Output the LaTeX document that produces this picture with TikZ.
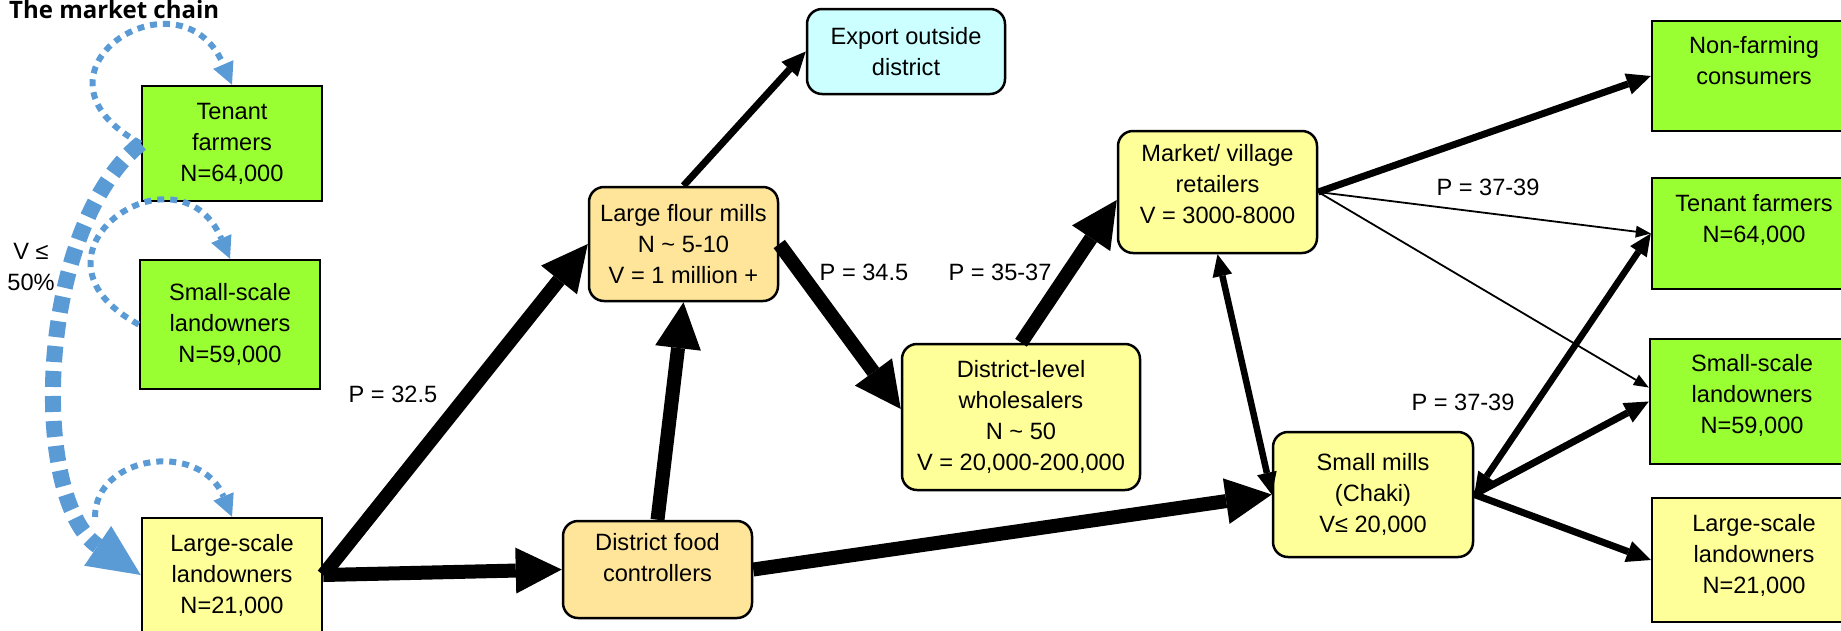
\documentclass[tikz,border=0pt]{standalone}
\usepackage{fontspec}
\setmainfont{Liberation Sans}
\newfontfamily\titlefont{Open Sans}
\usetikzlibrary{arrows.meta}

\definecolor{farmgreen}{HTML}{99FF33}
\definecolor{paleyellow}{HTML}{FFFF99}
\definecolor{paleorange}{HTML}{FFE599}
\definecolor{palecyan}{HTML}{CCFFFF}
\definecolor{shareblue}{HTML}{5B9BD5}

\tikzset{
  stage/.style={draw, line width=2.5pt, align=center, inner sep=2pt},
  farm/.style={stage, fill=farmgreen},
  landlord/.style={stage, fill=paleyellow},
  trader/.style={stage, rounded corners=15pt, fill=paleyellow},
  mill/.style={stage, rounded corners=15pt, fill=paleorange},
  outbox/.style={stage, rounded corners=15pt, fill=palecyan},
  bigflow/.style={line width=14pt, -{Triangle[length=46pt,width=46pt,line width=0pt]}},
  midflow/.style={line width=7pt, -{Triangle[length=24pt,width=22pt,line width=0pt]}},
  thinflow/.style={line width=1.8pt, -{Triangle[length=15pt,width=12pt,line width=0pt]}},
  twoway/.style={line width=6.5pt, {Triangle[length=22pt,width=20pt,line width=0pt]}-{Triangle[length=22pt,width=20pt,line width=0pt]}},
  share/.style={shareblue, line width=16pt, dash pattern=on 16pt off 9pt, -{Triangle[length=52pt,width=48pt,line width=0pt]}},
  selfloop/.style={shareblue, line width=6pt, dash pattern=on 7pt off 6pt, -{Triangle[length=22pt,width=22pt,line width=0pt]}}
}

\begin{document}
\begin{tikzpicture}[x=1pt, y=-1pt, font=\fontsize{23.6}{31}\selectfont]
  \useasboundingbox (0,0) rectangle (1841,630);

  \node[anchor=base west, inner sep=0pt, font={\titlefont\bfseries\fontsize{24}{28}\selectfont}] (title) at (9,18) {The market chain};

  % producers, left column
  \node[farm, minimum width=180pt, minimum height=115pt] (tfL) at (232,143.5) {Tenant\\farmers\\N=64,000};
  \node[farm, minimum width=180pt, minimum height=129pt] (ssL) at (230,324.5) {Small-scale\\landowners\\N=59,000};
  \node[landlord, minimum width=180pt, minimum height=114pt] (lslL) at (232,575) {Large-scale\\landowners\\N=21,000};
  \node[align=center] (vshare) at (31,267) {V ≤\\50\%};

  % middle of the chain
  \node[mill, minimum width=189pt, minimum height=114pt] (lfm) at (683.5,244) {Large flour mills\\N \textasciitilde{} 5-10\\V = 1 million +};
  \node[outbox, minimum width=198pt, minimum height=85pt] (exp) at (906,51.5) {Export outside\\district};
  \node[mill, minimum width=189pt, minimum height=97pt] (dfc) at (657.5,569.5) {District food\\controllers\\[-7pt]\mbox{}};
  \node[trader, minimum width=238pt, minimum height=146pt] (whs) at (1021,417) {District-level\\wholesalers\\N \textasciitilde{} 50\\V = 20,000-200,000};
  \node[trader, minimum width=199pt, minimum height=122pt] (mkt) at (1217.5,192) {Market/ village\\retailers\\V = 3000-8000\\[-15pt]\mbox{}};
  \node[trader, minimum width=200pt, minimum height=125pt] (sm) at (1373,494.5) {Small mills\\(Chaki)\\V≤ 20,000};

  % consumers, right column
  \node[farm, minimum width=204pt, minimum height=110pt] (nfc) at (1754,76) {Non-farming\\consumers\\\mbox{}};
  \node[farm, minimum width=204pt, minimum height=111pt] (tfR) at (1754,233.5) {Tenant farmers\\N=64,000\\\mbox{}};
  \node[farm, minimum width=204pt, minimum height=125pt] (ssR) at (1752,401.5) {Small-scale\\landowners\\N=59,000\\[-16pt]\mbox{}};
  \node[landlord, minimum width=204pt, minimum height=124pt] (lslR) at (1754,560) {Large-scale\\landowners\\N=21,000\\[-18pt]\mbox{}};

  % prices
  \node (p325) at (393,394) {P = 32.5};
  \node (p345) at (864,272) {P = 34.5};
  \node (p3537) at (1000,272) {P = 35-37};
  \node (p3739a) at (1488,187) {P = 37-39};
  \node (p3739b) at (1463,402) {P = 37-39};

  % kept back by the producers
  \coordinate (lslLoop) at (95,517);
  \draw[share] (tfL.west) .. controls (35,230) and (30,500) .. (lslL.west);
  \draw[selfloop] (tfL.west) .. controls +(-130,-70) and +(-52,-121) .. (tfL.north);
  \draw[selfloop] (ssL.west) .. controls +(-130,-70) and +(-52,-121) .. (ssL.north);
  \draw[selfloop] (lslLoop) .. controls (95,455) and (200,440) .. (lslL.north);

  % main flows
  \draw[bigflow] (lslL.east) -- (lfm.west);
  \draw[bigflow] (lslL.east) -- (dfc.west);
  \draw[bigflow] (dfc.north) -- (lfm.south);
  \draw[bigflow] (lfm.east) -- ([yshift=8pt]whs.west);
  \draw[bigflow] (whs.north) -- ([yshift=-8pt]mkt.west);
  \draw[bigflow] (dfc.east) -- (sm.west);
  \draw[midflow] (lfm.north) -- (exp.west);

  % to the consumers
  \draw[midflow] (mkt.east) -- (nfc.west);
  \draw[thinflow] (mkt.east) -- (tfR.west);
  \draw[thinflow] (mkt.east) -- ([yshift=14pt]ssR.west);
  \draw[twoway] (mkt.south) -- (sm.west);
  \draw[twoway] (sm.east) -- (tfR.west);
  \draw[midflow] (sm.east) -- (ssR.west);
  \draw[midflow] (sm.east) -- (lslR.west);
\end{tikzpicture}
\end{document}
